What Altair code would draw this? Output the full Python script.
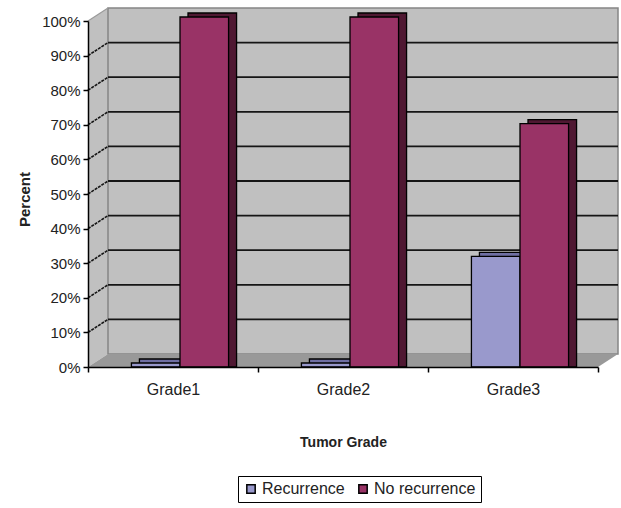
import altair as alt
import pandas as pd

# ---- data -------------------------------------------------------------
grades = ["Grade1", "Grade2", "Grade3"]
series = ["Recurrence", "No recurrence"]
recurrence = [0, 0, 30.8]
no_recurrence = [100, 100, 69.2]
y_ticks = [0, 10, 20, 30, 40, 50, 60, 70, 80, 90, 100]

# ---- layout / style ---------------------------------------------------
W, H = 510, 346                 # front plot area in pixels
WALL_DX, WALL_DY = 20, 13       # depth of the 3-D box (pixels)
BAR_DX, BAR_DY = 7, 4           # how far the bars sit behind the front plane
FACE_DX, FACE_DY = 8, 4         # depth of each bar
STEP = W / len(grades)          # width of one category band
FONT = "Liberation Sans"
front_colors = ["#9999cc", "#993366"]
depth_colors = ["#6f6fa3", "#4f1832"]

px_per_pct = H / 100.0
wall_dy = WALL_DY / px_per_pct  # box depth expressed in percent units

bars = pd.DataFrame({
    "grade": grades * 2,
    "series": [series[0]] * len(grades) + [series[1]] * len(grades),
    "pct": recurrence + no_recurrence,
})

left_wall = pd.DataFrame({"px": [0, WALL_DX], "lo": [0, wall_dy], "hi": [100, 100 + wall_dy]})
floor = pd.DataFrame({"pct": [0, wall_dy], "x0": [0, WALL_DX], "x1": [W, W + WALL_DX]})
back_wall = pd.DataFrame({"x0": [WALL_DX], "x1": [W + WALL_DX], "lo": [wall_dy], "hi": [100 + wall_dy]})
grid = pd.DataFrame({"v": y_ticks[1:]})

yscale = alt.Scale(domain=[0, 100], nice=False, zero=True)
pxscale = alt.Scale(domain=[0, W], range=[0, W], nice=False, zero=False)
band = alt.Scale(domain=grades, paddingInner=0, paddingOuter=0)


def offset_scale(shift):
    # two bars per band with Excel's 150% gap, pushed back by `shift` pixels
    return alt.Scale(domain=series, paddingInner=0, paddingOuter=0.75,
                     range=[shift, STEP + shift])


# ---- 3-D box ----------------------------------------------------------
left = alt.Chart(left_wall).mark_area(orient="vertical", color="#c0c0c0").encode(
    x=alt.X("px:Q", scale=pxscale, axis=None),
    y=alt.Y("hi:Q", scale=yscale, axis=None),
    y2="lo:Q",
)

back = alt.Chart(back_wall).mark_rect(fill="#c0c0c0", stroke="#858585", strokeWidth=1.5).encode(
    x=alt.X("x0:Q", scale=pxscale, axis=None),
    x2="x1:Q",
    y=alt.Y("hi:Q", scale=yscale, axis=None),
    y2="lo:Q",
)

flr = alt.Chart(floor).mark_area(orient="horizontal", color="#999999").encode(
    y=alt.Y("pct:Q", scale=yscale, axis=None),
    x=alt.X("x1:Q", scale=pxscale, axis=None),
    x2="x0:Q",
)

top_edge = alt.Chart(pd.DataFrame({"v": [100]})).transform_calculate(
    vb=f"datum.v + {wall_dy}", xa="0", xb=str(WALL_DX)
).mark_rule(color="#9a9a9a", strokeWidth=1.2).encode(
    x=alt.X("xa:Q", scale=pxscale, axis=None),
    x2="xb:Q",
    y=alt.Y("v:Q", scale=yscale, axis=None),
    y2="vb:Q",
)

grid_back = alt.Chart(grid).transform_filter("datum.v < 100").transform_calculate(
    vb=f"datum.v + {wall_dy}", xa=str(WALL_DX), xb=str(W + WALL_DX)
).mark_rule(color="#151515", strokeWidth=1.8).encode(
    x=alt.X("xa:Q", scale=pxscale, axis=None),
    x2="xb:Q",
    y=alt.Y("vb:Q", scale=yscale, axis=None),
)

grid_side = alt.Chart(grid).transform_filter("datum.v < 100").transform_calculate(
    vb=f"datum.v + {wall_dy}", xa="0", xb=str(WALL_DX)
).mark_rule(color="#151515", strokeWidth=1.6, strokeDash=[3, 1]).encode(
    x=alt.X("xa:Q", scale=pxscale, axis=None),
    x2="xb:Q",
    y=alt.Y("v:Q", scale=yscale, axis=None),
    y2="vb:Q",
)

# ---- axes (drawn from an invisible bar layer on the front plane) -------
axes = alt.Chart(bars).mark_bar(opacity=0).encode(
    x=alt.X(
        "grade:N", scale=band, sort=grades,
        axis=alt.Axis(
            title="Tumor Grade", labelAngle=0, tickBand="extent", tickSize=5,
            tickColor="black", domainColor="black", domainWidth=1.5, tickWidth=1.5,
            labelFontSize=16, labelColor="#222222", labelPadding=9,
            titleFontSize=14, titleFontWeight="bold", titleColor="#222222",
            titleY=75, titleBaseline="middle", grid=False, zindex=1,
        ),
    ),
    y=alt.Y(
        "pct:Q", scale=yscale, stack=False,
        axis=alt.Axis(
            title="Percent", values=y_ticks, labelExpr="datum.value + '%'",
            tickSize=5, tickColor="black", domainColor="black", domainWidth=1.5, tickWidth=1.5,
            labelFontSize=15, labelColor="#222222", labelPadding=3,
            titleFontSize=15, titleFontWeight="bold", titleColor="#222222",
            titleAngle=270, titleX=-64, titleY=178, titleAlign="center", titleBaseline="middle",
            grid=False, zindex=1,
        ),
    ),
)

# ---- bars -------------------------------------------------------------
depth = alt.Chart(bars).mark_bar(
    yOffset=-(BAR_DY + FACE_DY), y2Offset=-(BAR_DY + FACE_DY),
    stroke="black", strokeWidth=1.3,
).encode(
    x=alt.X("grade:N", scale=band, axis=None),
    xOffset=alt.XOffset("series:N", scale=offset_scale(BAR_DX + FACE_DX), sort=series),
    y=alt.Y("pct:Q", scale=yscale, stack=False, axis=None),
    fill=alt.condition(
        f"datum.series == '{series[0]}'", alt.value(depth_colors[0]), alt.value(depth_colors[1])
    ),
)

front = alt.Chart(bars).mark_bar(
    yOffset=-BAR_DY, y2Offset=-BAR_DY,
    stroke="black", strokeWidth=1.3,
).encode(
    x=alt.X("grade:N", scale=band, axis=None),
    xOffset=alt.XOffset("series:N", scale=offset_scale(BAR_DX), sort=series),
    y=alt.Y("pct:Q", scale=yscale, stack=False, axis=None),
    color=alt.Color(
        "series:N", scale=alt.Scale(domain=series, range=front_colors), sort=series,
        legend=alt.Legend(
            title=None, orient="none", legendX=150, legendY=455, direction="horizontal",
            strokeColor="black", fillColor="white", padding=5, symbolType="square",
            symbolSize=70, symbolStrokeColor="black", symbolStrokeWidth=1.5,
            labelFontSize=16, labelColor="#222222", columnPadding=10, labelOffset=3,
        ),
    ),
)

chart = alt.layer(
    left, back, flr, top_edge, grid_back, grid_side, depth, front, axes
).resolve_scale(
    x="independent", xOffset="independent"
).resolve_axis(
    y="independent"
).properties(
    width=W, height=H,
    autosize=alt.AutoSizeParams(type="none"),
    padding={"left": 88, "top": 21, "right": 23, "bottom": 141},
    background="white",
).configure(
    font=FONT
).configure_view(
    stroke=None
)

chart.save("out.html", embed_options={"renderer": "svg", "actions": False})
